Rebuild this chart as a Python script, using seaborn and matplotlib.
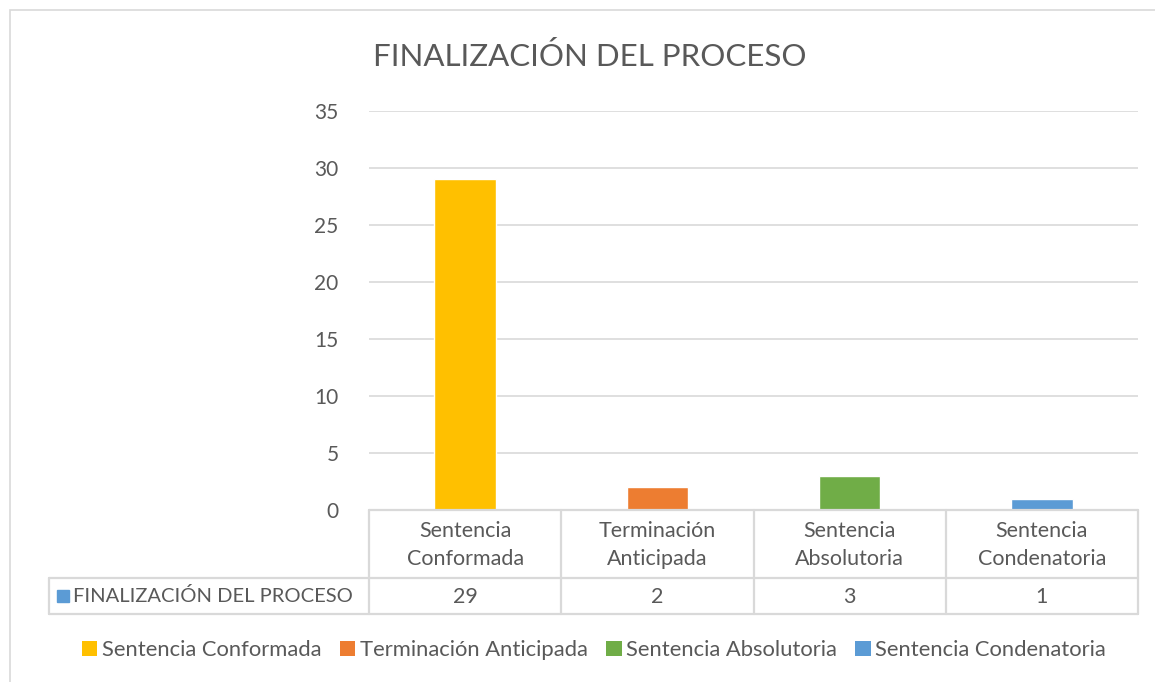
import matplotlib
matplotlib.use("Agg")
import matplotlib.pyplot as plt
import seaborn as sns
import pandas as pd
from matplotlib.lines import Line2D
from matplotlib.patches import Rectangle, Patch

categories = ["Sentencia Conformada", "Terminación Anticipada", "Sentencia Absolutoria", "Sentencia Condenatoria"]
cat_labels = ["Sentencia\nConformada", "Terminación\nAnticipada", "Sentencia\nAbsolutoria", "Sentencia\nCondenatoria"]
values = [29, 2, 3, 1]
colors = ["#FFC000", "#ED7D31", "#70AD47", "#5B9BD5"]
series_name = "FINALIZACIÓN DEL PROCESO"
yticks = [0, 5, 10, 15, 20, 25, 30, 35]

sns.set_style("white")
plt.rcParams['font.family'] = ['Lato', 'DejaVu Sans']
TXT = "#595959"
GRID = "#D9D9D9"

W, H = 1155, 682
fig = plt.figure(figsize=(W / 100, H / 100), dpi=100)
L, R, T, B = 369, 1138, 111, 510
ax = fig.add_axes([L / W, 1 - B / H, (R - L) / W, (B - T) / H])

df = pd.DataFrame({"cat": categories, "val": values})
sns.barplot(data=df, x="cat", y="val", hue="cat", palette=colors, width=0.32,
            ax=ax, legend=False, saturation=1, zorder=3)
ax.set_ylim(0, 35)
ax.set_xlim(-0.5, 3.5)
ax.set_yticks(yticks)
ax.set_yticklabels([str(v) for v in yticks], fontsize=15, color=TXT)
ax.tick_params(axis="y", length=0, pad=22)
ax.set_xticks([])
ax.set_xlabel("")
ax.set_ylabel("")
ax.grid(axis="y", color=GRID, linewidth=1.2, zorder=0)
for s in ax.spines.values():
    s.set_visible(False)

def fx(px): return px / W
def fy(py): return 1 - py / H

lw = 1.6
def hline(x0, x1, y):
    fig.add_artist(Line2D([fx(x0), fx(x1)], [fy(y), fy(y)], color=GRID, lw=lw))
def vline(x, y0, y1):
    fig.add_artist(Line2D([fx(x), fx(x)], [fy(y0), fy(y1)], color=GRID, lw=lw))

row1_top, row1_bot, row2_bot = 510, 578, 614
tbl_left = 49
hline(L, R, row1_top)
hline(tbl_left, R, row1_bot)
hline(tbl_left, R, row2_bot)
vline(tbl_left, row1_bot, row2_bot)
colw = (R - L) / len(categories)
for i in range(len(categories) + 1):
    vline(L + i * colw, row1_top, row2_bot)

for i, (lab, v) in enumerate(zip(cat_labels, values)):
    cx = L + (i + 0.5) * colw
    fig.text(fx(cx), fy((row1_top + row1_bot) / 2 + 1), lab, ha="center", va="center",
             fontsize=15.5, color=TXT, linespacing=1.45)
    fig.text(fx(cx), fy((row1_bot + row2_bot) / 2 + 1), str(v), ha="center", va="center",
             fontsize=15.5, color=TXT)

fig.add_artist(Rectangle((fx(57), fy(602)), fx(12), 12 / H, color=colors[3],
                         transform=fig.transFigure))
fig.text(fx(73), fy(596), series_name, ha="left", va="center", fontsize=14.5, color=TXT)

fig.text(fx(590), fy(57), series_name, ha="center", va="center", fontsize=22.5, color=TXT)

handles = [Patch(facecolor=c, edgecolor="none") for c in colors]
fig.legend(handles, categories, loc="center", bbox_to_anchor=(fx(594), fy(650)),
           ncol=4, frameon=False, fontsize=15.8, labelcolor=TXT, handlelength=0.7,
           handleheight=0.7, handletextpad=0.2, columnspacing=0.85)

fig.add_artist(Rectangle((fx(10), fy(H + 5)), fx(W), (H - 5) / H, fill=False,
                         edgecolor=GRID, lw=1.2, transform=fig.transFigure))

fig.savefig("out.png", dpi=100, facecolor="white")
